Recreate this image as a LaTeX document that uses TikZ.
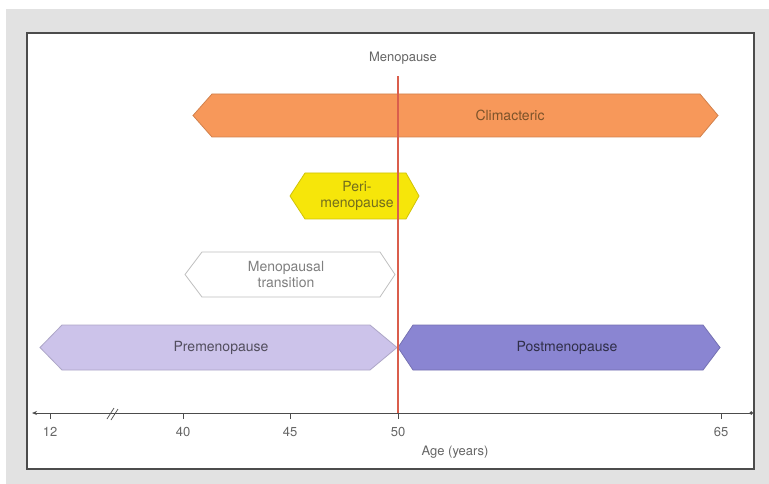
\documentclass[tikz,border=0pt]{standalone}
\usepackage{fontspec}
\setmainfont{TeX Gyre Heros}
\usepackage{xcolor}
\usetikzlibrary{arrows.meta}

\definecolor{framegray}{HTML}{E2E2E2}
\definecolor{climorange}{HTML}{F7985A}
\definecolor{periyellow}{HTML}{F6E60A}
\definecolor{prelav}{HTML}{CCC3EA}
\definecolor{postpurple}{HTML}{8A85D2}
\definecolor{menored}{HTML}{DA5E4C}

\begin{document}
\begin{tikzpicture}[x=1pt,y=-1pt,
  bartext/.style={font=\fontsize{14}{16}\selectfont, align=center, inner sep=0pt},
  ticklabel/.style={font=\fontsize{13}{15}\selectfont, text=black!60, inner sep=0pt},
  axisline/.style={draw=black!70, line width=0.9pt}]
  \useasboundingbox (0,0) rectangle (769,484);
  \fill[white] (0,0) rectangle (769,484);
  \fill[framegray] (6,9) rectangle (769,484);
  \filldraw[fill=white, draw=black!70, line width=1.6pt] (27,33) rectangle (754,469);

  % phases
  \filldraw[fill=climorange, draw=climorange!85!black, line width=0.8pt]
    (193,115.5) -- (212,94) -- (700,94) -- (718,115.5) -- (700,137) -- (212,137) -- cycle;
  \node[bartext, text=brown!65!black] (clim) at (510,115.5) {Climacteric};
  \filldraw[fill=periyellow, draw=periyellow!85!black, line width=0.8pt]
    (290,196) -- (305,173) -- (406,173) -- (419,196) -- (406,219) -- (305,219) -- cycle;
  \node[bartext, text=olive!75!black] (peri) at (357,196) {Peri-\\menopause};
  \filldraw[fill=white, draw=black!25, line width=0.8pt]
    (185,274.5) -- (202,252) -- (380,252) -- (395,274.5) -- (380,297) -- (202,297) -- cycle;
  \node[bartext, text=black!50] (trans) at (286,274.5) {Menopausal\\transition};
  \filldraw[fill=prelav, draw=prelav!85!black, line width=0.8pt]
    (40,347.5) -- (62,325) -- (370,325) -- (397,347.5) -- (370,370) -- (62,370) -- cycle;
  \node[bartext, text=black!60!prelav] (pre) at (221,347.5) {Premenopause};
  \filldraw[fill=postpurple, draw=postpurple!85!black, line width=0.8pt]
    (398,347.5) -- (413,325) -- (703,325) -- (720,347.5) -- (703,370) -- (413,370) -- cycle;
  \node[bartext, text=black!65!postpurple] (post) at (567,347.5) {Postmenopause};

  % age axis
  \coordinate (axl) at (32,413);
  \coordinate (axr) at (753,413);
  \coordinate (m50) at (398,413);
  \draw[axisline, {Stealth[length=5pt,width=4pt]}-{Circle[length=3.5pt]}] (axl) -- (axr);
  \foreach \x/\a in {50/12, 183/40, 290/45, 398/50, 721/65}
    \draw[axisline, line width=0.6pt] (\x,413) -- (\x,419) node[ticklabel, anchor=north] (t\a) at (\x,427) {\a};
  \draw[axisline, line width=0.7pt] (107,419) -- (114,408) (111,420) -- (118,409);
  \node[ticklabel] (age) at (455,452) {Age (years)};

  % menopause marker
  \node[ticklabel] (meno) at (403,58) {Menopause};
  \draw[menored, line width=1.3pt] (meno.south) ++(-5,12) -- (m50);
\end{tikzpicture}
\end{document}
